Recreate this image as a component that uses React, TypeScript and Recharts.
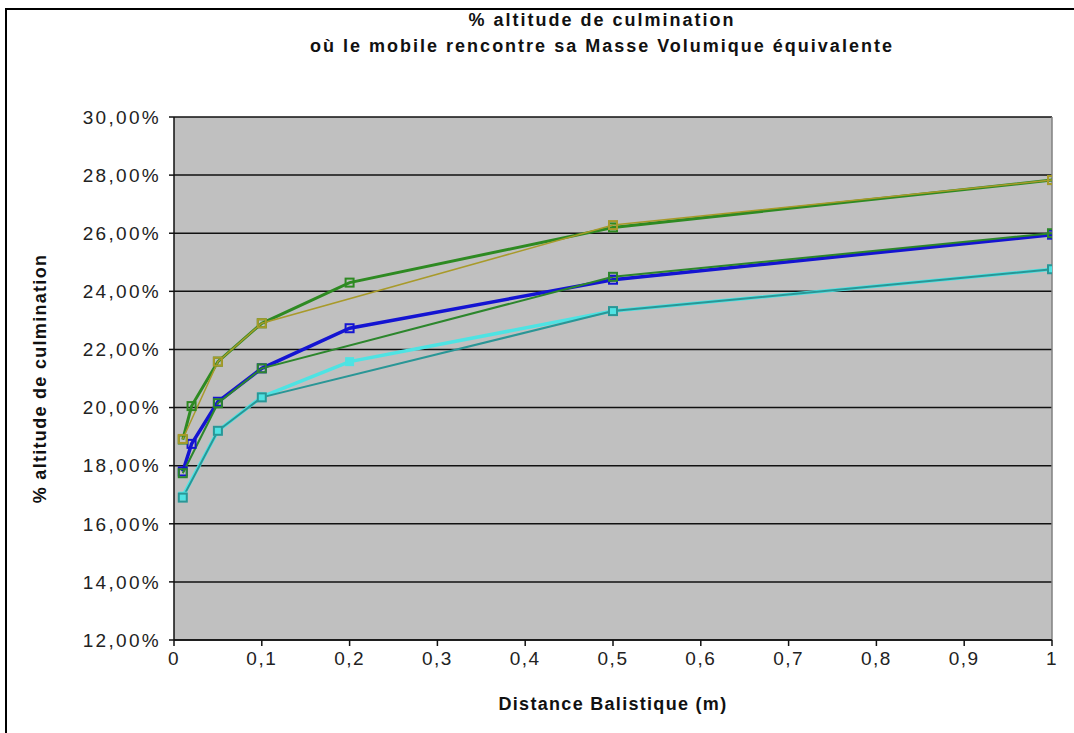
import React from 'react';
import { LineChart, Line, XAxis, YAxis, CartesianGrid, ReferenceLine } from 'recharts';

// Distance balistique (m) — x positions
const olive = [
  { x: 0.01, y: 18.92 },
  { x: 0.05, y: 21.58 },
  { x: 0.1, y: 22.9 },
  { x: 0.5, y: 26.28 },
  { x: 1, y: 27.83 },
];
const greenUpper = [
  { x: 0.01, y: 18.9 },
  { x: 0.02, y: 20.05 },
  { x: 0.05, y: 21.58 },
  { x: 0.1, y: 22.9 },
  { x: 0.2, y: 24.3 },
  { x: 0.5, y: 26.2 },
  { x: 1, y: 27.83 },
];
const blue = [
  { x: 0.01, y: 17.8 },
  { x: 0.02, y: 18.75 },
  { x: 0.05, y: 20.2 },
  { x: 0.1, y: 21.35 },
  { x: 0.2, y: 22.73 },
  { x: 0.5, y: 24.4 },
  { x: 1, y: 25.95 },
];
const greenLower = [
  { x: 0.01, y: 17.74 },
  { x: 0.05, y: 20.15 },
  { x: 0.1, y: 21.35 },
  { x: 0.5, y: 24.5 },
  { x: 1, y: 26.0 },
];
const cyan = [
  { x: 0.01, y: 16.95 },
  { x: 0.05, y: 19.2 },
  { x: 0.1, y: 20.37 },
  { x: 0.2, y: 21.58 },
  { x: 0.5, y: 23.32 },
  { x: 1, y: 24.76 },
];
const teal = [
  { x: 0.01, y: 16.9 },
  { x: 0.05, y: 19.2 },
  { x: 0.1, y: 20.35 },
  { x: 0.5, y: 23.32 },
  { x: 1, y: 24.76 },
];

const xTicks = [0, 0.1, 0.2, 0.3, 0.4, 0.5, 0.6, 0.7, 0.8, 0.9, 1];
const yTicks = [12, 14, 16, 18, 20, 22, 24, 26, 28, 30];

const titleLine1 = '% altitude de culmination';
const titleLine2 = 'où le mobile rencontre sa Masse Volumique équivalente';
const yTitle = '% altitude de culmination';
const xTitle = 'Distance Balistique (m)';

const FONT = '"Liberation Sans", Arial, sans-serif';

const squareDot = (color: string, fill = 'none', size = 8) => (props: any) => {
  const { cx, cy, index } = props;
  if (cx == null || cy == null) return <g key={`d-${index}`} />;
  return (
    <rect
      key={`d-${index}`}
      x={cx - size / 2}
      y={cy - size / 2}
      width={size}
      height={size}
      fill={fill}
      stroke={color}
      strokeWidth={2}
    />
  );
};

const fmtY = (v: number) => v.toFixed(2).replace('.', ',') + '%';
const fmtX = (v: number) => (v === 0 ? '0' : v === 1 ? '1' : v.toFixed(1).replace('.', ','));

export default function App() {
  return (
    <div
      style={{
        position: 'relative',
        width: 1074,
        height: 733,
        overflow: 'hidden',
        background: '#fff',
        fontFamily: FONT,
      }}
    >
      <style>{'body{margin:0}'}</style>
      <div
        style={{
          position: 'absolute',
          left: 5,
          top: 8,
          width: 1200,
          height: 900,
          border: '2px solid #000',
          boxSizing: 'border-box',
          pointerEvents: 'none',
        }}
      />
      <div
        style={{
          position: 'absolute',
          left: 0,
          top: 7,
          width: 1204,
          textAlign: 'center',
          fontWeight: 'bold',
          fontSize: 18,
          letterSpacing: 2,
          lineHeight: '26px',
          color: '#111',
        }}
      >
        <div>{titleLine1}</div>
        <div>{titleLine2}</div>
      </div>
      <LineChart
        width={1074}
        height={733}
        margin={{ top: 117, right: 22, bottom: 0, left: 0 }}
      >
        <CartesianGrid
          vertical={false}
          horizontal={true}
          stroke="#111"
          strokeWidth={1.5}
          fill="#C0C0C0"
          fillOpacity={1}
        />
        <XAxis
          type="number"
          dataKey="x"
          domain={[0, 1]}
          ticks={xTicks}
          tickFormatter={fmtX}
          height={93}
          tickSize={6}
          tickMargin={6}
          stroke="#111"
          strokeWidth={1.5}
          tick={{ fill: '#222', fontSize: 19, fontFamily: FONT, letterSpacing: 1.5 }}
          allowDataOverflow
          label={{
            value: xTitle,
            position: 'insideBottom',
            offset: 23,
            style: { fontWeight: 'bold', fontSize: 18, fill: '#111', letterSpacing: 1.3, fontFamily: FONT },
          }}
        />
        <YAxis
          type="number"
          domain={[12, 30]}
          ticks={yTicks}
          tickFormatter={fmtY}
          width={174}
          tickSize={5}
          tickMargin={8}
          stroke="#111"
          strokeWidth={1.5}
          tick={{ fill: '#222', fontSize: 19, fontFamily: FONT, letterSpacing: 2.3 }}
          allowDataOverflow
          label={{
            value: yTitle,
            angle: -90,
            position: 'insideLeft',
            offset: 40,
            style: { textAnchor: 'middle', fontWeight: 'bold', fontSize: 18, fill: '#111', letterSpacing: 1.3, fontFamily: FONT },
          }}
        />
        <ReferenceLine x={1} stroke="#808080" strokeWidth={1.5} />
        <Line
          data={cyan}
          dataKey="y"
          stroke="#4EE3E3"
          strokeWidth={3.5}
          dot={squareDot('#4EE3E3', '#4EE3E3', 7)}
          isAnimationActive={false}
        />
        <Line
          data={teal}
          dataKey="y"
          stroke="#2A9696"
          strokeWidth={2}
          dot={squareDot('#2A9696')}
          isAnimationActive={false}
        />
        <Line
          data={blue}
          dataKey="y"
          stroke="#1414D2"
          strokeWidth={3.5}
          dot={squareDot('#1414D2')}
          isAnimationActive={false}
        />
        <Line
          data={greenLower}
          dataKey="y"
          stroke="#2C862C"
          strokeWidth={2}
          dot={squareDot('#2C862C')}
          isAnimationActive={false}
        />
        <Line
          data={greenUpper}
          dataKey="y"
          stroke="#2E8A22"
          strokeWidth={3}
          dot={squareDot('#2E8A22')}
          isAnimationActive={false}
        />
        <Line
          data={olive}
          dataKey="y"
          stroke="#A89A2A"
          strokeWidth={1.5}
          dot={squareDot('#A89A2A')}
          isAnimationActive={false}
        />
      </LineChart>
    </div>
  );
}
